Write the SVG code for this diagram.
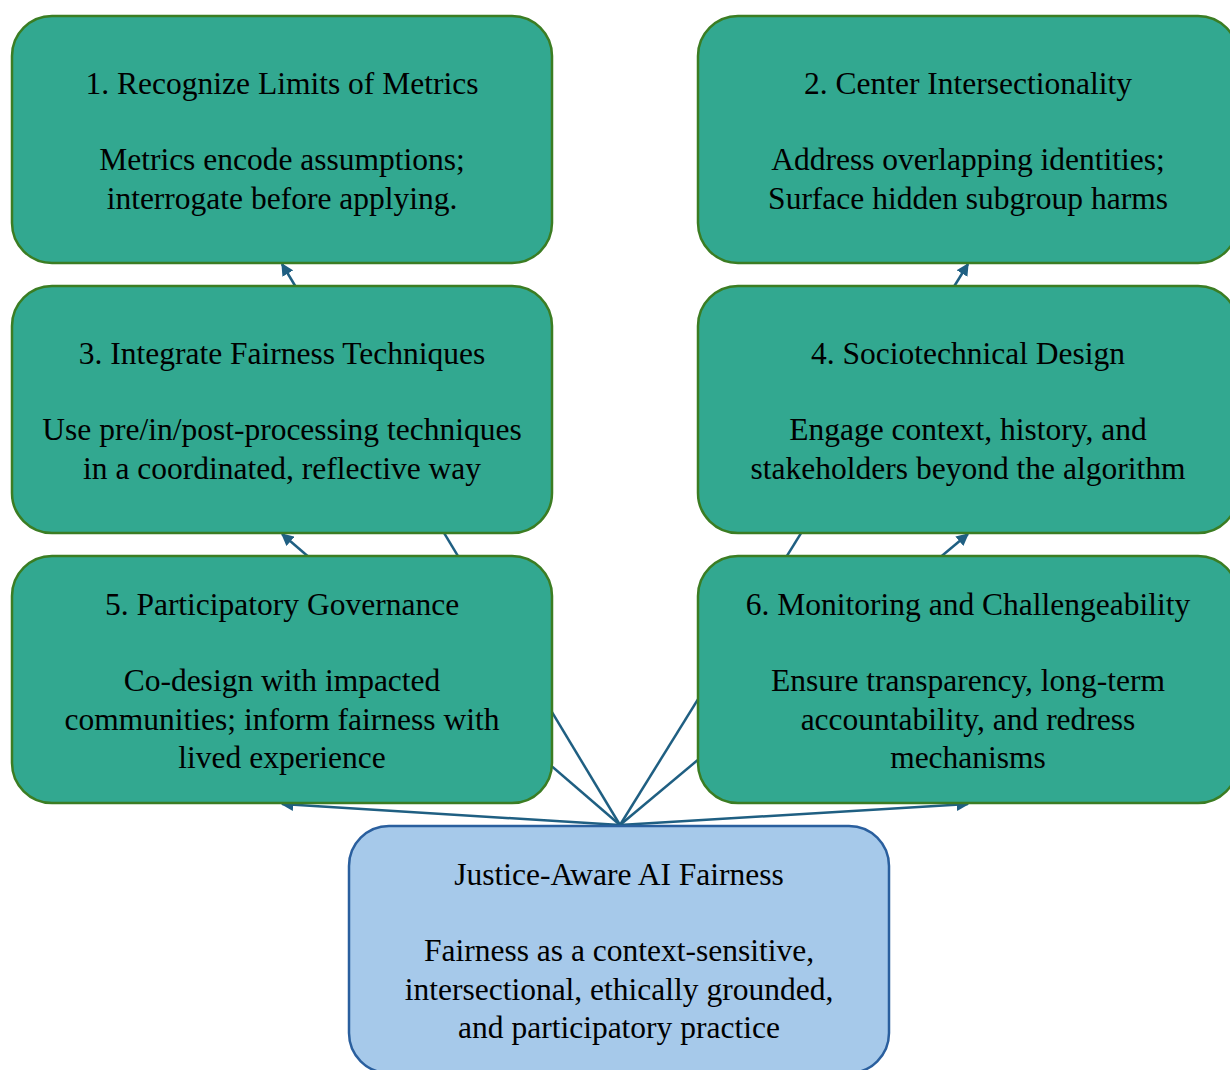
<svg xmlns="http://www.w3.org/2000/svg" width="1230" height="1070" viewBox="0 0 1230 1070">
<style>
.n rect{fill:#32a890;stroke:#3b7d23;stroke-width:2.5}
.r rect{fill:#a6c9ea;stroke:#2a5f9e;stroke-width:2.5}
text{font-family:"Liberation Serif","Times New Roman",serif;font-size:31.5px;fill:#000;text-anchor:middle}
.e{stroke:#1f5f82;stroke-width:2.5;fill:none;marker-end:url(#a)}
</style>
<defs>
<marker id="a" viewBox="0 0 10 10" refX="9" refY="5" markerWidth="5" markerHeight="5" orient="auto" markerUnits="strokeWidth">
<path d="M0,0 L10,5 L0,10 z" fill="#1f5f82"/>
</marker>
</defs>
<g id="edges">
<line class="e" x1="620" y1="825" x2="282" y2="264"/>
<line class="e" x1="620" y1="825" x2="968" y2="264"/>
<line class="e" x1="620" y1="825" x2="282" y2="534"/>
<line class="e" x1="620" y1="825" x2="968" y2="534"/>
<line class="e" x1="620" y1="825" x2="282" y2="804"/>
<line class="e" x1="620" y1="825" x2="968" y2="804"/>
</g>
<g id="n1" class="n"><rect x="12" y="16" width="540" height="247" rx="40"/>
<text x="282" y="94">1. Recognize Limits of Metrics</text>
<text x="282" y="170">Metrics encode assumptions;</text>
<text x="282" y="209">interrogate before applying.</text></g>
<g id="n2" class="n"><rect x="698" y="16" width="540" height="247" rx="40"/>
<text x="968" y="94">2. Center Intersectionality</text>
<text x="968" y="170">Address overlapping identities;</text>
<text x="968" y="209">Surface hidden subgroup harms</text></g>
<g id="n3" class="n"><rect x="12" y="286" width="540" height="247" rx="40"/>
<text x="282" y="364">3. Integrate Fairness Techniques</text>
<text x="282" y="440">Use pre/in/post-processing techniques</text>
<text x="282" y="479">in a coordinated, reflective way</text></g>
<g id="n4" class="n"><rect x="698" y="286" width="540" height="247" rx="40"/>
<text x="968" y="364">4. Sociotechnical Design</text>
<text x="968" y="440">Engage context, history, and</text>
<text x="968" y="479">stakeholders beyond the algorithm</text></g>
<g id="n5" class="n"><rect x="12" y="556" width="540" height="247" rx="40"/>
<text x="282" y="615">5. Participatory Governance</text>
<text x="282" y="691">Co-design with impacted</text>
<text x="282" y="730">communities; inform fairness with</text>
<text x="282" y="768">lived experience</text></g>
<g id="n6" class="n"><rect x="698" y="556" width="540" height="247" rx="40"/>
<text x="968" y="615">6. Monitoring and Challengeability</text>
<text x="968" y="691">Ensure transparency, long-term</text>
<text x="968" y="730">accountability, and redress</text>
<text x="968" y="768">mechanisms</text></g>
<g id="root" class="r"><rect x="349" y="826" width="540" height="247" rx="40"/>
<text x="619" y="885">Justice-Aware AI Fairness</text>
<text x="619" y="961">Fairness as a context-sensitive,</text>
<text x="619" y="1000">intersectional, ethically grounded,</text>
<text x="619" y="1038">and participatory practice</text></g>
</svg>
